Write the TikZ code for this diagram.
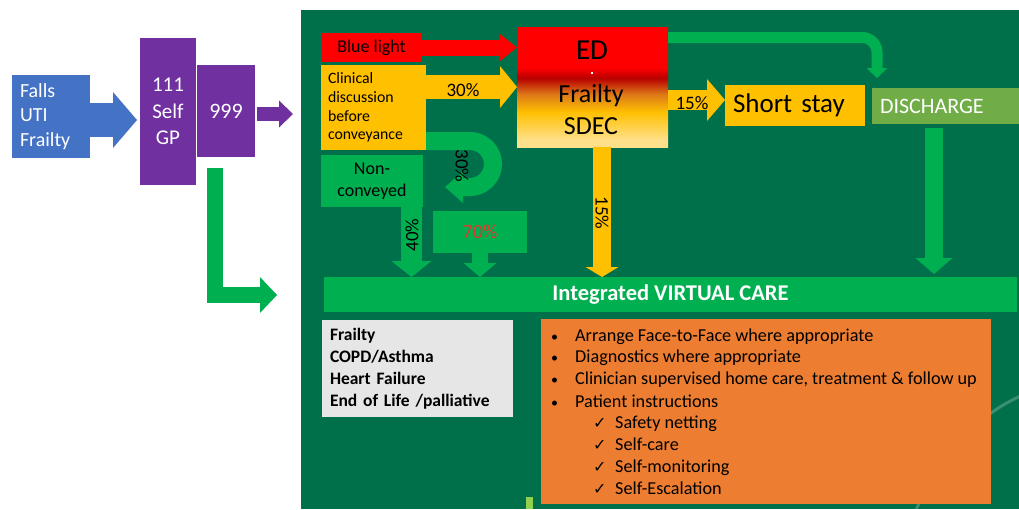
\documentclass[tikz,border=0pt]{standalone}
\usepackage{fontspec}
\setmainfont{Carlito}
\newfontfamily\djv{DejaVu Sans}
\usetikzlibrary{arrows.meta,calc}
\definecolor{bgdark}{HTML}{00704A}
\definecolor{gbright}{HTML}{00B050}
\definecolor{amber}{HTML}{FFC000}
\definecolor{purp}{HTML}{7030A0}
\definecolor{blue1}{HTML}{4472C4}
\definecolor{dgreen}{HTML}{70AD47}
\definecolor{lgray}{HTML}{E7E6E6}
\definecolor{orng}{HTML}{ED7D31}
\definecolor{lime}{HTML}{92D050}
\definecolor{red70}{HTML}{DC3A2D}
\definecolor{dkred}{HTML}{B80000}
\definecolor{brn}{HTML}{DC7818}
\definecolor{ylight}{HTML}{FFE08A}
\newcommand\fsz[2]{\fontsize{#1pt}{#2pt}\selectfont}
\pgfdeclareverticalshading{edsd}{100bp}{color(0bp)=(ylight); color(28bp)=(ylight); color(39.6bp)=(amber); color(47bp)=(brn); color(53.7bp)=(dkred); color(58bp)=(red); color(100bp)=(red)}
\begin{document}
\begin{tikzpicture}[x=1pt,y=-1pt,
  box/.style 2 args={rectangle, inner sep=0pt, outer sep=0pt, minimum width=#1, minimum height=#2},
  blk/.style n args={4}{draw=#1, line width=#2, -{Triangle[width=#3,length=#4,line width=0pt]}},
  lbl/.style={inner sep=0pt, font=\fsz{19}{22}},
  txt/.style={inner sep=0pt, anchor=base west, font=\fsz{18.2}{21}},
  chk/.style={inner sep=0pt, anchor=base west, font=\djv\fsz{16}{18}}]
\fill[white] (0,0) rectangle (1019,509);
\useasboundingbox (0,0) rectangle (1019,509);
\fill[bgdark] (301,10) rectangle (1019,509);
\draw[white, opacity=0.22, line width=3pt] (912,520) .. controls (935,460) and (975,415) .. (1025,394);
\fill[lime] (526,497) rectangle (533,509);

% left column
\node[box={78pt}{83pt}, fill=blue1, text width=62pt, align=left, text=white, font=\fsz{20}{24.5}] (falls) at (51,116.5) {Falls\\UTI\\Frailty};
\node[box={56pt}{147pt}, fill=purp, align=center, text=white, font=\fsz{21}{26.5}] (gp) at (168,111.5) {111\\Self\\GP};
\node[box={58pt}{92pt}, fill=purp, text=white, font=\fsz{22}{26}] (n999) at (226,111) {999};
\coordinate (fa) at ($(falls.east)+(0,3.5)$);
\draw[blk={blue1}{34pt}{56pt}{24pt}] (fa) -- ($(fa -| gp.west)+(-3,0)$);
\coordinate (pa) at ($(n999.east)+(2,3)$);
\coordinate (pend) at (293,114);
\draw[blk={purp}{14pt}{27pt}{14pt}] (pa) -- (pend);
\coordinate (la) at ($(n999.south)+(-11,11)$);
\coordinate (lend) at (277,295);
\draw[blk={gbright}{16pt}{36pt}{17pt}] (la) |- (lend);

% main nodes
\node[box={693pt}{35pt}, fill=gbright, text=white, font=\bfseries\fsz{22.5}{26}] (bar) at (670.5,294.5) {Integrated VIRTUAL CARE};
\node[box={101pt}{29pt}, fill=red, font=\fsz{18}{20}] (bl) at (371.5,47.5) {Blue light};
\node[box={151pt}{120pt}, shading=edsd] (ed) at (592.5,87) {};
\node[inner sep=0pt, font=\fsz{29}{30}] (edt) at (592,50) {ED};
\node[inner sep=0pt, font=\fsz{26}{30}] (frt) at (591,96) {Frailty};
\node[inner sep=0pt, font=\fsz{26}{30}] (sdt) at (591,126) {SDEC};
\fill[white] (591,72) rectangle (593,74);
\node[box={105pt}{85pt}, fill=amber, text width=91pt, align=left, font=\fsz{15.8}{18.7}] (clin) at (373.5,107.5) {Clinical\\discussion\\before\\conveyance};
\node[box={102pt}{52pt}, fill=gbright, align=center, font=\fsz{18}{21.5}] (noncon) at (372,181) {Non-\\conveyed};
\node[box={94pt}{42pt}, fill=gbright, text=red70, font=\fsz{20}{24}] (sev) at (480,232) {70\%};
\node[box={140pt}{41pt}, fill=amber, text width=124pt, align=left, font=\fsz{27}{30}] (ss) at (795,105.5) {Short stay};
\node[box={147pt}{36pt}, fill=dgreen, text=white, text width=131pt, align=left, font=\fsz{22}{26}] (dis) at (945.5,106) {DISCHARGE};

% connectors
\draw[blk={red}{16pt}{27pt}{17pt}] (bl.east) -- (bl.east -| ed.west);
\coordinate (ca) at ($(clin.east)+(0,-20.5)$);
\draw[blk={amber}{24pt}{42pt}{17pt}] (ca) -- (ca -| ed.west);
\node[lbl] (l30) at (463,90) {30\%};
\coordinate (na) at ($(noncon.south)+(39.5,0)$);
\draw[blk={gbright}{21pt}{40pt}{16pt}] (na) -- (na |- bar.north);
\node[lbl, rotate=90] (l40) at (412,235) {40\%};
\coordinate (ua) at ($(clin.south east)+(0,-9)$);
\coordinate (uend) at (445,187);
\draw[blk={gbright}{18pt}{32pt}{18pt}] (ua) -- (470,141) .. controls (482.7,141) and (493,151.3) .. (493,164) .. controls (493,176.7) and (482.7,187) .. (470,187) -- (uend);
\node[lbl, rotate=-90] (l30b) at (462,166) {30\%};
\draw[blk={gbright}{16pt}{33pt}{14pt}] (sev.south) -- (sev.south |- bar.north);
\coordinate (ea) at ($(ed.south)+(9.5,0)$);
\draw[blk={amber}{18pt}{33pt}{10pt}] (ea) -- (ea |- bar.north);
\node[lbl, rotate=-90] (l15b) at (602,213) {15\%};
\coordinate (ta) at ($(ed.north east)+(0,10.5)$);
\coordinate (tend) at (877,78);
\draw[blk={gbright}{11pt}{21pt}{10pt}] (ta) -- (862,37.5) .. controls (870.3,37.5) and (877,44.2) .. (877,52.5) -- (tend);
\coordinate (sa) at ($(ed.east)+(0,13)$);
\draw[blk={amber}{20pt}{42pt}{18pt}] (sa) -- (sa -| ss.west);
\node[lbl] (l15) at (692,103) {15\%};
\coordinate (da) at ($(dis.south)+(-11.5,4)$);
\draw[blk={gbright}{18pt}{37pt}{16pt}] (da) -- ($(da |- bar.north)+(0,-3)$);

% bottom boxes
\node[box={191pt}{97pt}, fill=lgray, text width=175pt, align=left, font=\bfseries\fsz{17.5}{22}] (cond) at (417.5,368.5) {Frailty\\COPD/Asthma\\Heart Failure\\End of Life /palliative};
\node[box={450pt}{185pt}, fill=orng] (care) at (766,411.5) {};
\node[txt] (c1) at (551,341) {\makebox[24pt][l]{\fsz{14}{14}•}Arrange Face-to-Face where appropriate};
\node[txt] (c2) at (551,362) {\makebox[24pt][l]{\fsz{14}{14}•}Diagnostics where appropriate};
\node[txt] (c3) at (551,384) {\makebox[24pt][l]{\fsz{14}{14}•}Clinician supervised home care, treatment \& follow up};
\node[txt] (c4) at (551,407) {\makebox[24pt][l]{\fsz{14}{14}•}Patient instructions};
\node[chk] (k5) at (593,428) {✓};
\node[txt] (c5) at (615,428) {Safety netting};
\node[chk] (k6) at (593,450) {✓};
\node[txt] (c6) at (615,450) {Self-care};
\node[chk] (k7) at (593,472) {✓};
\node[txt] (c7) at (615,472) {Self-monitoring};
\node[chk] (k8) at (593,494) {✓};
\node[txt] (c8) at (615,494) {Self-Escalation};
\end{tikzpicture}
\end{document}
